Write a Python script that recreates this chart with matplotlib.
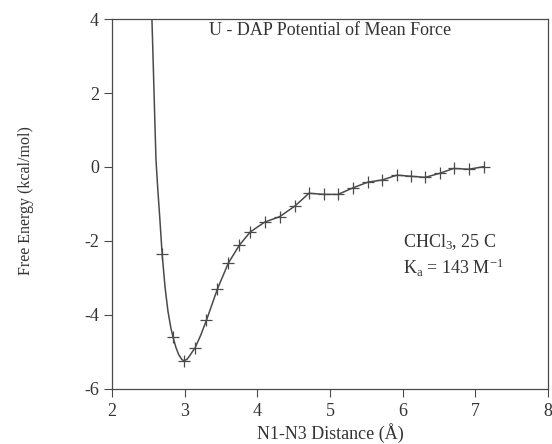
import matplotlib.pyplot as plt

plt.rcParams.update({'font.family': 'Liberation Serif', 'font.size': 13,
                     'axes.unicode_minus': False,
                     'mathtext.fontset': 'custom', 'mathtext.rm': 'Liberation Serif',
                     'mathtext.it': 'Liberation Serif:italic'})

# sampled points (+ markers)
dist = [2.69, 2.84, 2.99, 3.14, 3.30, 3.45, 3.60, 3.75, 3.90, 4.10, 4.31, 4.52,
        4.71, 4.92, 5.11, 5.32, 5.52, 5.72, 5.92, 6.11, 6.31, 6.51, 6.70, 6.91, 7.12]
energy = [-2.36, -4.60, -5.24, -4.90, -4.14, -3.30, -2.60, -2.12, -1.76, -1.49, -1.34, -1.05,
          -0.71, -0.74, -0.74, -0.56, -0.41, -0.35, -0.22, -0.25, -0.28, -0.17, -0.04, -0.06, 0.01]

# smooth curve (left wall + well)
curve_x = [2.545, 2.57, 2.59, 2.605, 2.63, 2.66, 2.69, 2.73, 2.77, 2.81, 2.84, 2.88,
           2.92, 2.96, 2.99, 3.03, 3.07, 3.11, 3.14, 3.22, 3.30, 3.45, 3.60, 3.75, 3.90, 4.10, 4.31]
curve_y = [4.3, 2.6, 1.2, 0.2, -0.6, -1.45, -2.36, -3.25, -3.90, -4.35, -4.60, -4.88,
           -5.08, -5.20, -5.24, -5.20, -5.10, -4.98, -4.90, -4.55, -4.14, -3.30, -2.60, -2.12, -1.76, -1.49, -1.34]

gray = '#4a4a4a'
txt = '#333333'
fig = plt.figure(figsize=(5.52, 4.44), dpi=100)
ax = fig.add_axes([0.2029, 0.1239, 0.79, 0.8333])

ax.plot(curve_x, curve_y, color=gray, lw=1.1)
ax.plot(dist[10:], energy[10:], color=gray, lw=1.1)
ax.plot(dist, energy, linestyle='none', marker='+', ms=8, mew=0.9, color=gray)

ax.set_xlim(2, 8)
ax.set_ylim(-6, 4)
ax.set_xticks([2, 3, 4, 5, 6, 7, 8])
ax.set_yticks([-6, -4, -2, 0, 2, 4])
ax.tick_params(direction='out', length=6, width=0.8, color=gray, labelcolor=txt, labelsize=13)
ax.tick_params(axis='x', pad=4)
for s in ax.spines.values():
    s.set_color(gray)
    s.set_linewidth(0.9)

ax.text(0.5, 0.97, 'U - DAP Potential of Mean Force', transform=ax.transAxes,
        ha='center', va='center', color=txt, fontsize=13)
ax.text(6.0, -2.03, 'CHCl$_3$, 25 C', ha='left', va='center', color=txt)
ax.text(6.0, -2.72, r'K$_{\mathrm{a}}$ = 143 M$^{\mathrm{-1}}$', ha='left', va='center', color=txt)

ax.set_xlabel('N1-N3 Distance (Å)', color=txt, labelpad=2)
ax.set_ylabel('Free Energy (kcal/mol)', color=txt, fontsize=11.5)
ax.yaxis.set_label_coords(-0.18, 0.51)

fig.savefig('out.png', dpi=100)
